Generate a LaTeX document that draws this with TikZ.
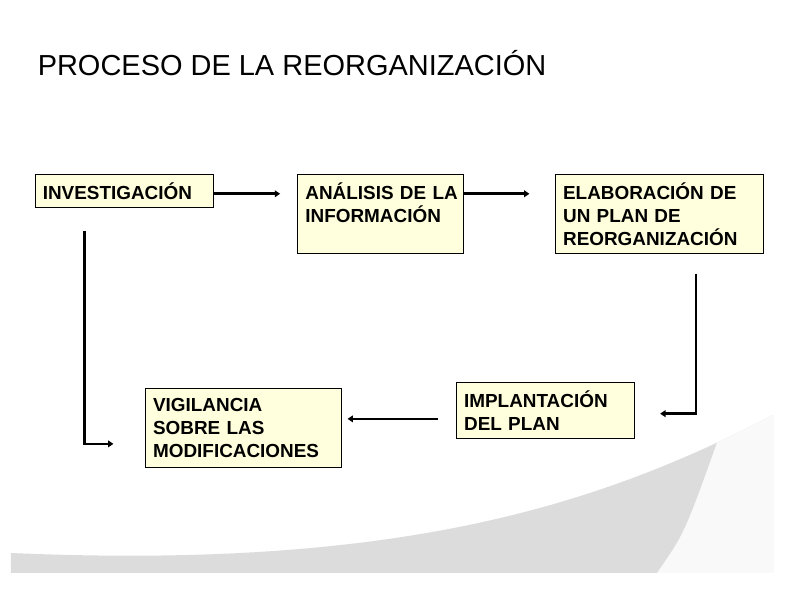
\documentclass[tikz,border=0pt]{standalone}
\usepackage{fontspec}
\setmainfont{Liberation Sans}
\usetikzlibrary{calc,arrows.meta}
\definecolor{crema}{HTML}{FFFFDD}
\definecolor{grisfondo}{HTML}{DCDCDC}
\definecolor{grisclaro}{HTML}{F9F9F9}

\begin{document}
\begin{tikzpicture}[
    caja/.style={draw=black, line width=0.7pt, fill=crema, anchor=north west, align=left,
        inner xsep=0.19cm, inner ysep=0.1cm, font=\bfseries\fontsize{13.45}{16.3}\selectfont},
    flecha/.style={line width=1.8pt, -{Triangle[length=3.8pt,width=4.8pt]}}
]
    \useasboundingbox[fill=white] (0,0) rectangle (19.75,14.85);
    % fondo gris
    \fill[grisfondo] (0.275,1.025) .. controls (10,0.6) and (15,2.225) .. (19.325,4.475) -- (19.325,0.525) -- (0.275,0.525) -- cycle;
    \begin{scope}
        \clip (0.275,1.025) .. controls (10,0.6) and (15,2.225) .. (19.325,4.475) -- (19.325,0.525) -- (0.275,0.525) -- cycle;
        \fill[grisclaro] (16.425,0.525) .. controls (17.1125,1.5125) .. (17.95,3.85) -- (18.175,4.475) -- (18.175,5) -- (19.75,5) -- (19.75,0) -- (16.425,0) -- cycle;
    \end{scope}

    \node[anchor=base west, font=\fontsize{20.6}{24}\selectfont] (titulo) at (0.82,12.96) {PROCESO DE LA REORGANIZACIÓN};

    % cajas
    \node[caja, text width=4.07cm, minimum height=0.81cm] (inv) at (0.868,10.493) {INVESTIGACIÓN};
    \node[caja, text width=3.755cm, minimum height=1.96cm] (ana) at (7.433,10.493) {ANÁLISIS~DE~LA\\INFORMACIÓN\\\mbox{}};
    \node[caja, text width=4.83cm, minimum height=1.96cm] (ela) at (13.875,10.493) {ELABORACIÓN DE\\UN PLAN DE\\REORGANIZACIÓN};
    \node[caja, text width=4.08cm, minimum height=1.385cm] (imp) at (11.4,5.293) {IMPLANTACIÓN\\DEL PLAN};
    \node[caja, text width=4.52cm, minimum height=1.975cm] (vig) at (3.625,5.143) {VIGILANCIA\\SOBRE LAS\\MODIFICACIONES};

    % flechas
    \coordinate (f) at ($(inv.east)+(0,-0.07)$);
    \draw[flecha, shorten >=0.43cm] (f) -- (f -| ana.west);
    \draw[flecha, shorten >=0.64cm] (f -| ana.east) -- (f -| ela.west);
    \coordinate (b) at ($(ela.south west)+(3.52,-0.5)$);
    \draw[flecha, shorten >=0.62cm] (b) |- ($(imp.east)+(0,-0.08)$);
    \draw[flecha, shorten <=0.44cm, shorten >=0.14cm] ($(imp.west)+(0,-0.21)$) -- ($(vig.east |- imp.west)+(0,-0.21)$);
    \coordinate (c) at ($(inv.south west)+(1.24,-0.58)$);
    \draw[flecha, shorten >=0.79cm] (c) |- ($(vig.west)+(0,-0.39)$);
\end{tikzpicture}
\end{document}
